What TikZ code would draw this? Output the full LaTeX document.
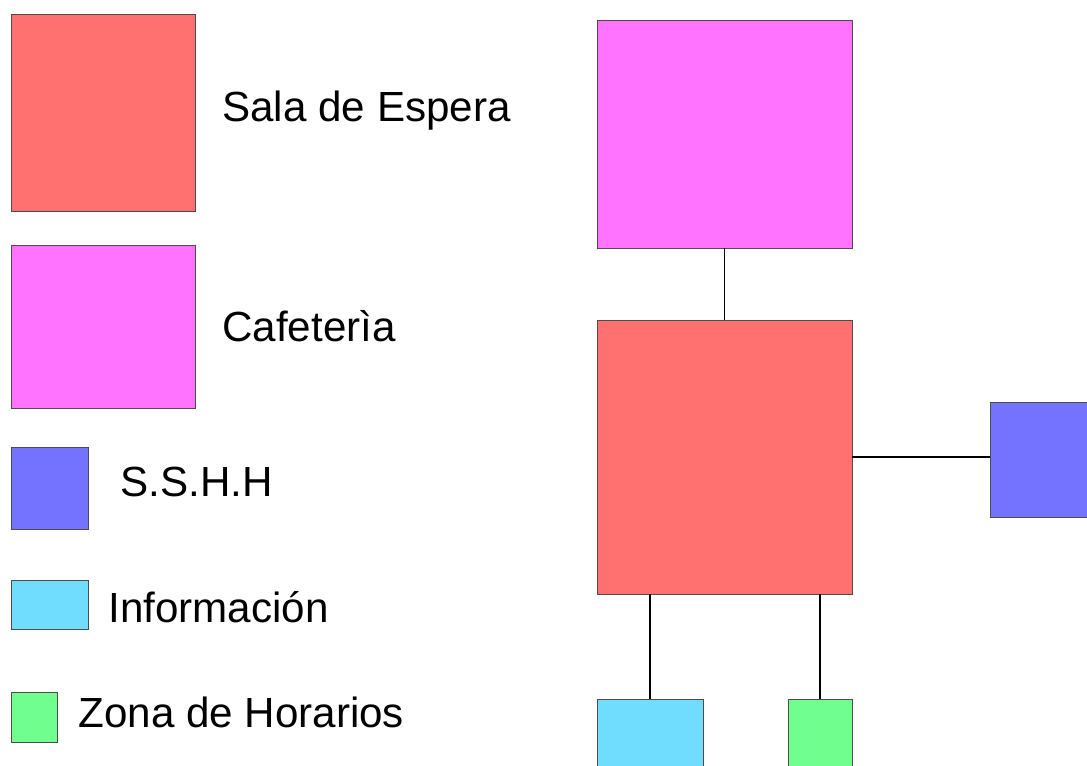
\documentclass[tikz,border=0pt]{standalone}
\usepackage{fontspec}
\setmainfont{Liberation Sans}
\usetikzlibrary{positioning}
\definecolor{salacol}{HTML}{FF7070}
\definecolor{cafecol}{HTML}{FF73FF}
\definecolor{sshhcol}{HTML}{7373FF}
\definecolor{infocol}{HTML}{70DDFF}
\definecolor{horacol}{HTML}{70FF8E}
\tikzstyle{zona} = [rectangle, anchor=north west, inner sep=0pt, outer sep=0pt, draw=black!70, line width=0.5pt]
\tikzstyle{sala} = [zona, fill=salacol]
\tikzstyle{cafe} = [zona, fill=cafecol]
\tikzstyle{sshh} = [zona, fill=sshhcol]
\tikzstyle{info} = [zona, fill=infocol]
\tikzstyle{hora} = [zona, fill=horacol]
\tikzstyle{label} = [anchor=base west, inner sep=0pt, font=\fontsize{24}{29}\selectfont]
\tikzstyle{line} = [black, line width=0.8pt]

\begin{document}
\begin{tikzpicture}[x=0.02cm, y=-0.02cm]

\clip (0,0) rectangle (1087,765);

% leyenda
\node (sala1) [sala, minimum width=3.68cm, minimum height=3.94cm] at (11,14) {};
\node (cafe1) [cafe, minimum width=3.68cm, minimum height=3.26cm] at (11,245) {};
\node (sshh1) [sshh, minimum width=1.54cm, minimum height=1.64cm] at (11,447) {};
\node (info1) [info, minimum width=1.54cm, minimum height=0.98cm] at (11,580) {};
\node (hora1) [hora, minimum width=0.92cm, minimum height=1.0cm] at (11,692) {};

\node (tsala) [label] at (222,121) {Sala de Espera};
\node (tcafe) [label] at (222,341) {Cafeterìa};
\node (tsshh) [label] at (120,496) {S.S.H.H};
\node (tinfo) [label] at (108,622) {Información};
\node (thora) [label] at (78,727) {Zona de Horarios};

% plano
\node (cafe2) [cafe, minimum width=5.1cm, minimum height=4.56cm] at (597,20) {};
\node (sala2) [sala, minimum width=5.1cm, minimum height=5.48cm] at (597,320) {};
\node (sshh2) [sshh, minimum width=2.4cm, minimum height=2.3cm] at (990,402) {};
\node (info2) [info, minimum width=2.12cm, minimum height=1.6cm] at (597,699) {};
\node (hora2) [hora, minimum width=1.28cm, minimum height=1.6cm] at (788,699) {};

\draw [line] (cafe2.south) -- (sala2.north);
\draw [line] (sala2.east) -- (sala2.east -| sshh2.west);
\draw [line] (info2.north |- sala2.south) -- (info2.north);
\draw [line] (hora2.north |- sala2.south) -- (hora2.north);

\end{tikzpicture}
\end{document}
